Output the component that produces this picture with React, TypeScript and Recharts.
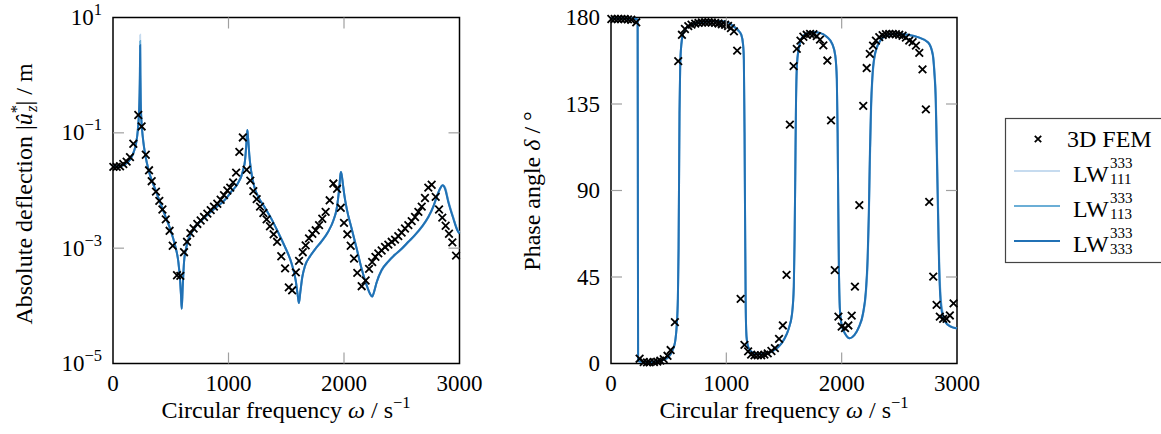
import React from 'react';
import { ComposedChart, Line, Scatter, XAxis, YAxis, ReferenceArea } from 'recharts';

// 3D FEM reference points
const femOmega = [
  3, 32, 61, 89, 118, 147, 176, 219, 248, 284,
  312, 335, 372, 401, 428, 457, 490, 517, 554, 583,
  615, 641, 670, 698, 730, 759, 788, 817, 846, 874,
  903, 932, 961, 990, 1015, 1040, 1066, 1094, 1124, 1157,
  1189, 1215, 1244, 1273, 1302, 1330, 1359, 1391, 1421, 1457,
  1490, 1522, 1551, 1583, 1611, 1643, 1668, 1697, 1726, 1755,
  1784, 1812, 1841, 1876, 1908, 1940, 1972, 2000, 2029, 2058,
  2087, 2115, 2153, 2187, 2217, 2244, 2272, 2297, 2326, 2355,
  2384, 2413, 2442, 2470, 2499, 2528, 2557, 2586, 2615, 2644,
  2673, 2701, 2730, 2759, 2794, 2823, 2851, 2880, 2909, 2938,
  2970,
];
const femAbs = [
  2.57e-2, 2.57e-2, 2.63e-2, 2.88e-2, 3.16e-2, 3.8e-2, 6.46e-2, 2.04e-1, 1.29e-1, 4.17e-2,
  2.24e-2, 1.45e-2, 9.55e-3, 6.61e-3, 4.68e-3, 3.16e-3, 2.0e-3, 1.1e-3, 3.39e-4, 3.31e-4,
  8.51e-4, 1.29e-3, 1.82e-3, 2.19e-3, 2.63e-3, 3.02e-3, 3.47e-3, 3.98e-3, 4.57e-3, 5.25e-3,
  5.89e-3, 6.92e-3, 8.32e-3, 1.0e-2, 1.12e-2, 1.38e-2, 2.04e-2, 4.68e-2, 8.32e-2, 2.29e-2,
  1.48e-2, 9.77e-3, 7.08e-3, 5.25e-3, 4.07e-3, 3.16e-3, 2.4e-3, 1.74e-3, 1.29e-3, 7.24e-4,
  4.47e-4, 2.09e-4, 1.86e-4, 3.8e-4, 6.03e-4, 8.51e-4, 1.12e-3, 1.48e-3, 1.78e-3, 2.04e-3,
  2.51e-3, 3.24e-3, 4.27e-3, 6.76e-3, 1.32e-2, 1.07e-2, 5.01e-3, 2.75e-3, 1.74e-3, 1.1e-3,
  6.61e-4, 3.72e-4, 2.19e-4, 2.75e-4, 4.37e-4, 5.75e-4, 7.08e-4, 8.13e-4, 9.12e-4, 1.05e-3,
  1.15e-3, 1.29e-3, 1.41e-3, 1.62e-3, 1.86e-3, 2.19e-3, 2.51e-3, 2.95e-3, 3.47e-3, 4.27e-3,
  5.25e-3, 7.41e-3, 1.12e-2, 1.26e-2, 7.76e-3, 4.68e-3, 3.39e-3, 2.45e-3, 1.78e-3, 1.26e-3,
  7.41e-4,
];
const femPhase = [
  179.2, 179.2, 179.2, 179.2, 179.2, 179, 178.8, 177.5, 2.5, 0.8,
  0.6, 0.6, 0.8, 1.0, 1.5, 2.3, 4.0, 7.0, 21.5, 157.3,
  171, 174, 175.5, 176.3, 176.8, 177.2, 177.4, 177.5, 177.5, 177.4,
  177.2, 176.9, 176.5, 176.2, 175.6, 174.5, 172.8, 162.8, 33.6, 9.7,
  6.3, 4.6, 4.2, 4.2, 4.3, 4.6, 5.3, 6.5, 8.0, 12.8,
  19.8, 46.1, 124.3, 154.7, 163.7, 168, 170, 171, 171.5, 171.3,
  170.3, 168.5, 165.5, 157.6, 126.5, 48.6, 24.4, 19.2, 18.4, 19.8,
  24.9, 40, 82.4, 134, 153.7, 161.1, 165.4, 168, 169.8, 170.8,
  171.3, 171.5, 171.5, 171.3, 171, 170.5, 169.5, 168, 167.2, 165.4,
  161.6, 153, 132.2, 84.1, 45.2, 30.5, 24.4, 23.2, 23.2, 25,
  31.3,
];

// layerwise (LW) model curves, magnitude
const absOmega = [
  0, 50, 100, 150, 180, 200, 215, 225, 230, 233,
  235, 237, 240, 245, 252, 263, 275, 291, 320, 364,
  407, 450, 494, 537, 566, 580, 589, 595, 603, 615,
  632, 652, 681, 724, 782, 840, 898, 955, 999, 1027,
  1060, 1085, 1110, 1130, 1143, 1150, 1157, 1163, 1168, 1173,
  1180, 1195, 1224, 1258, 1316, 1374, 1431, 1489, 1547, 1582,
  1599, 1610, 1622, 1639, 1662, 1706, 1749, 1807, 1864, 1908,
  1937, 1950, 1960, 1968, 1974, 1980, 1990, 2003, 2023, 2066,
  2110, 2153, 2196, 2225, 2245, 2260, 2283, 2326, 2384, 2442,
  2499, 2557, 2615, 2673, 2730, 2773, 2808, 2831, 2854, 2875,
  2903, 2947, 2981, 3000,
];
const absLW333 = [
  2.57e-2, 2.63e-2, 2.82e-2, 3.47e-2, 4.68e-2, 6.61e-2, 1.12e-1, 2.24e-1, 4.47e-1, 1.0,
  3.31, 1.0, 3.55e-1, 1.78e-1, 1.12e-1, 6.92e-2, 4.68e-2, 3.16e-2, 1.86e-2, 1.07e-2,
  6.31e-3, 3.72e-3, 2.19e-3, 1.12e-3, 5.75e-4, 2.95e-4, 1.51e-4, 8.91e-5, 2.0e-4, 5.75e-4,
  9.77e-4, 1.41e-3, 1.86e-3, 2.51e-3, 3.24e-3, 4.17e-3, 5.25e-3, 6.46e-3, 8.13e-3, 9.77e-3,
  1.15e-2, 1.38e-2, 1.74e-2, 2.4e-2, 3.31e-2, 4.79e-2, 7.59e-2, 1.12e-1, 8.91e-2, 6.61e-2,
  4.17e-2, 2.24e-2, 1.15e-2, 7.76e-3, 5.01e-3, 3.16e-3, 1.86e-3, 1.05e-3, 5.37e-4, 2.75e-4,
  1.55e-4, 1.12e-4, 1.74e-4, 3.16e-4, 4.9e-4, 7.24e-4, 9.55e-4, 1.32e-3, 1.95e-3, 3.02e-3,
  4.9e-3, 7.59e-3, 1.17e-2, 1.82e-2, 2.09e-2, 1.86e-2, 1.32e-2, 8.32e-3, 4.9e-3, 2.19e-3,
  9.77e-4, 4.37e-4, 2.29e-4, 1.62e-4, 1.45e-4, 1.74e-4, 2.57e-4, 4.17e-4, 5.89e-4, 7.76e-4,
  9.77e-4, 1.29e-3, 1.7e-3, 2.34e-3, 3.47e-3, 5.25e-3, 8.32e-3, 1.07e-2, 1.23e-2, 1.07e-2,
  6.31e-3, 3.24e-3, 2.04e-3, 1.78e-3,
];
const absLW113 = [
  2.57e-2, 2.63e-2, 2.82e-2, 3.47e-2, 4.68e-2, 6.61e-2, 1.12e-1, 2.24e-1, 4.47e-1, 1.1,
  3.9, 1.1, 3.55e-1, 1.78e-1, 1.12e-1, 6.92e-2, 4.68e-2, 3.16e-2, 1.86e-2, 1.07e-2,
  6.31e-3, 3.72e-3, 2.19e-3, 1.12e-3, 5.75e-4, 2.95e-4, 1.51e-4, 8.91e-5, 2.0e-4, 5.75e-4,
  9.77e-4, 1.41e-3, 1.86e-3, 2.51e-3, 3.24e-3, 4.17e-3, 5.25e-3, 6.46e-3, 8.13e-3, 9.77e-3,
  1.15e-2, 1.38e-2, 1.74e-2, 2.4e-2, 3.31e-2, 4.79e-2, 7.59e-2, 1.12e-1, 8.91e-2, 6.61e-2,
  4.17e-2, 2.24e-2, 1.15e-2, 7.76e-3, 5.01e-3, 3.16e-3, 1.86e-3, 1.05e-3, 5.37e-4, 2.75e-4,
  1.55e-4, 1.12e-4, 1.74e-4, 3.16e-4, 4.9e-4, 7.24e-4, 9.55e-4, 1.32e-3, 1.95e-3, 3.02e-3,
  4.9e-3, 7.59e-3, 1.17e-2, 1.82e-2, 2.09e-2, 1.86e-2, 1.32e-2, 8.32e-3, 4.9e-3, 2.19e-3,
  9.77e-4, 4.37e-4, 2.29e-4, 1.62e-4, 1.45e-4, 1.74e-4, 2.57e-4, 4.17e-4, 5.89e-4, 7.76e-4,
  9.77e-4, 1.29e-3, 1.7e-3, 2.34e-3, 3.47e-3, 5.25e-3, 8.32e-3, 1.07e-2, 1.23e-2, 1.1e-2,
  6.46e-3, 3.31e-3, 2.09e-3, 1.82e-3,
];
const absLW111 = [
  2.57e-2, 2.63e-2, 2.82e-2, 3.47e-2, 4.68e-2, 6.61e-2, 1.12e-1, 2.24e-1, 4.47e-1, 1.2,
  5.0, 1.2, 3.55e-1, 1.78e-1, 1.12e-1, 6.92e-2, 4.68e-2, 3.16e-2, 1.86e-2, 1.07e-2,
  6.31e-3, 3.72e-3, 2.19e-3, 1.12e-3, 5.75e-4, 2.95e-4, 1.51e-4, 8.91e-5, 2.0e-4, 5.75e-4,
  9.77e-4, 1.41e-3, 1.86e-3, 2.51e-3, 3.24e-3, 4.17e-3, 5.25e-3, 6.46e-3, 8.13e-3, 9.77e-3,
  1.15e-2, 1.38e-2, 1.74e-2, 2.4e-2, 3.31e-2, 4.79e-2, 7.59e-2, 1.12e-1, 8.91e-2, 6.61e-2,
  4.17e-2, 2.24e-2, 1.15e-2, 7.76e-3, 5.01e-3, 3.16e-3, 1.86e-3, 1.05e-3, 5.37e-4, 2.75e-4,
  1.55e-4, 1.12e-4, 1.74e-4, 3.16e-4, 4.9e-4, 7.24e-4, 9.55e-4, 1.32e-3, 1.95e-3, 3.02e-3,
  4.9e-3, 7.59e-3, 1.17e-2, 1.82e-2, 2.09e-2, 1.86e-2, 1.32e-2, 8.32e-3, 4.9e-3, 2.19e-3,
  9.77e-4, 4.37e-4, 2.29e-4, 1.62e-4, 1.45e-4, 1.74e-4, 2.57e-4, 4.07e-4, 5.75e-4, 7.59e-4,
  9.55e-4, 1.26e-3, 1.66e-3, 2.29e-3, 3.39e-3, 5.13e-3, 8.13e-3, 1.05e-2, 1.23e-2, 1.15e-2,
  6.76e-3, 3.39e-3, 2.14e-3, 1.86e-3,
];

// LW model curves, phase
const phaseOmega = [
  0, 100, 200, 228, 231, 233, 235, 250, 300, 350,
  400, 450, 500, 530, 555, 570, 580, 586, 590, 594,
  600, 610, 625, 650, 700, 800, 900, 1000, 1060, 1100,
  1130, 1145, 1152, 1158, 1163, 1168, 1175, 1190, 1220, 1260,
  1300, 1350, 1400, 1450, 1500, 1540, 1570, 1585, 1592, 1598,
  1604, 1612, 1625, 1645, 1690, 1750, 1810, 1870, 1920, 1945,
  1958, 1965, 1970, 1976, 1985, 2000, 2030, 2070, 2110, 2150,
  2185, 2210, 2225, 2235, 2245, 2255, 2265, 2285, 2330, 2400,
  2490, 2575, 2660, 2750, 2790, 2805, 2815, 2823, 2830, 2838,
  2845, 2858, 2875, 2900, 2940, 3000,
];
const phaseLW333 = [
  179.5, 179.5, 179.3, 179, 178.5, 90, 1.5, 1.0, 0.8, 0.8,
  1.0, 1.8, 3.5, 6.5, 11, 20, 34, 60, 95, 130,
  155, 166, 171.5, 174.5, 176.5, 177.8, 178.2, 177.8, 175.5, 173.5,
  171, 166, 158, 120, 70, 30, 14, 8.5, 6, 5,
  4.8, 5.2, 6.5, 8.5, 12.5, 18, 26, 40, 65, 100,
  135, 155, 163, 168, 171.5, 172.4, 172, 170, 166, 160,
  148, 120, 85, 50, 28, 20, 15.5, 13.2, 14.8, 19,
  26, 38, 55, 77, 110, 135, 148, 160, 167.5, 171,
  171.6, 171, 169.8, 167, 160.5, 150, 138, 115, 94, 70,
  50, 32, 25, 21.5, 19.3, 18.2,
];
const phaseLW113 = [
  179.5, 179.5, 179.3, 179, 178.5, 90, 1.5, 1.0, 0.8, 0.8,
  1.0, 1.8, 3.5, 6.5, 11, 20, 34, 60, 95, 130,
  155, 166, 171.5, 174.5, 176.5, 177.8, 178.2, 177.8, 175.5, 173.5,
  171, 166, 158, 120, 70, 30, 14, 8.5, 6, 5,
  4.8, 5.2, 6.5, 8.5, 12.5, 18, 26, 40, 65, 100,
  135, 155, 163, 168, 171.5, 172.4, 172, 170, 166, 160,
  148, 120, 85, 50, 28, 20, 15.5, 13.2, 14.8, 19,
  26, 37, 53, 75, 107, 133, 147, 159.5, 167.5, 171,
  171.6, 171, 169.8, 167, 161, 151, 140, 119, 98, 74,
  53, 34, 26, 21.8, 19.4, 18.3,
];
const phaseLW111 = [
  179.5, 179.5, 179.3, 179, 178.5, 90, 1.5, 1.0, 0.8, 0.8,
  1.0, 1.8, 3.5, 6.5, 11, 20, 34, 60, 95, 130,
  155, 166, 171.5, 174.5, 176.5, 177.8, 178.2, 177.8, 175.5, 173.5,
  171, 166, 158, 120, 70, 30, 14, 8.5, 6, 5,
  4.8, 5.2, 6.5, 8.5, 12.5, 18, 26, 40, 65, 100,
  135, 155, 163, 168, 171.5, 172.4, 172, 170, 166, 160,
  148, 120, 85, 50, 28, 20, 15.5, 13.2, 14.8, 19,
  25, 36, 51, 72, 104, 130, 145, 159, 167.3, 171,
  171.6, 171, 169.8, 167.2, 161.5, 152, 142, 123, 102, 78,
  57, 36, 27, 22.2, 19.5, 18.4,
];

const omegaTicks = [0, 1000, 2000, 3000];
const absTicks = [1e-5, 1e-3, 1e-1, 10];
const phaseTicks = [0, 45, 90, 135, 180];

const legendItems = [
  { name: 'LW', sup: '333', sub: '111', color: '#c6dbef' },
  { name: 'LW', sup: '333', sub: '113', color: '#6baed6' },
  { name: 'LW', sup: '333', sub: '333', color: '#2171b5' },
];

const femRows = femOmega.map((omega, i) => ({ omega, abs: femAbs[i], phase: femPhase[i] }));
const absRows = absOmega.map((omega, i) => ({
  omega, lw111: absLW111[i], lw113: absLW113[i], lw333: absLW333[i],
}));
const phaseRows = phaseOmega.map((omega, i) => ({
  omega, lw111: phaseLW111[i], lw113: phaseLW113[i], lw333: phaseLW333[i],
}));

const FONT = '"Liberation Serif", "Times New Roman", serif';
const TOP = 17.5;
const BOTTOM = 363.5;
const TICK_LEN = 11;
const TICK_COLOR = '#a0a0a0';
const FS = 23; // tick labels
const TS = 24; // titles, legend
const SS = 16.5; // scripts

const Cross = ({ cx, cy, s = 3.8 }: any) => {
  if (cx == null || cy == null) return null;
  return (
    <path
      d={`M${cx - s},${cy - s}L${cx + s},${cy + s}M${cx - s},${cy + s}L${cx + s},${cy - s}`}
      stroke="#000"
      strokeWidth={1.8}
      fill="none"
    />
  );
};

const XTick = ({ x, payload, index }: any) => {
  const inner = index > 0 && index < omegaTicks.length - 1;
  return (
    <g>
      {inner && <line x1={x} x2={x} y1={BOTTOM} y2={BOTTOM - TICK_LEN} stroke={TICK_COLOR} strokeWidth={1.2} />}
      {inner && <line x1={x} x2={x} y1={TOP} y2={TOP + TICK_LEN} stroke={TICK_COLOR} strokeWidth={1.2} />}
      <text x={x} y={391} textAnchor="middle" fontSize={FS} fontFamily={FONT} fill="#000">
        {payload.value}
      </text>
    </g>
  );
};

const YTick = ({ y, payload, index, left, right, count, log }: any) => {
  const inner = index > 0 && index < count - 1;
  const exp = log ? Math.round(Math.log10(payload.value)) : 0;
  return (
    <g>
      {inner && <line x1={left} x2={left + TICK_LEN} y1={y} y2={y} stroke={TICK_COLOR} strokeWidth={1.2} />}
      {inner && <line x1={right - TICK_LEN} x2={right} y1={y} y2={y} stroke={TICK_COLOR} strokeWidth={1.2} />}
      <text x={left - 11} y={y + 7.5} textAnchor="end" fontSize={FS} fontFamily={FONT} fill="#000">
        {log ? '10' : payload.value}
        {log && (
          <tspan dy={-10} fontSize={SS}>
            {exp < 0 ? `\u2212${-exp}` : `${exp}`}
          </tspan>
        )}
      </text>
    </g>
  );
};

const xTitle = (cx: number) => () => (
  <text x={cx} y={418} textAnchor="middle" fontSize={TS} fontFamily={FONT} fill="#000">
    Circular frequency <tspan fontStyle="italic">ω</tspan> / s
    <tspan dy={-10} fontSize={SS}>−1</tspan>
  </text>
);

const absTitle = () => (
  <text transform="translate(32,194) rotate(-90)" textAnchor="middle" fontSize={TS} fontFamily={FONT} fill="#000">
    Absolute deflection |<tspan fontStyle="italic">û</tspan>
    <tspan dy={-10} fontSize={SS}>*</tspan>
    <tspan dx={-7} dy={15} fontSize={SS} fontStyle="italic">z</tspan>
    <tspan dy={-5}>| / m</tspan>
  </text>
);

const phaseTitle = () => (
  <text transform="translate(60,191) rotate(-90)" textAnchor="middle" fontSize={TS} fontFamily={FONT} fill="#000">
    Phase angle <tspan fontStyle="italic">δ</tspan> / °
  </text>
);

const lwLines = (rows: any[]) =>
  legendItems.map((it) => (
    <Line
      key={it.sub}
      data={rows}
      dataKey={`lw${it.sub}`}
      type="monotone"
      stroke={it.color}
      strokeWidth={2}
      dot={false}
      isAnimationActive={false}
    />
  ));

export default function App() {
  return (
    <div style={{ position: 'absolute', left: 0, top: 0, width: 1161, height: 434, background: '#fff', overflow: 'hidden', fontFamily: FONT }}>
      {/* left: magnitude */}
      <div style={{ position: 'absolute', left: 0, top: 0 }}>
        <ComposedChart width={500} height={434} margin={{ top: TOP, right: 40.5, bottom: 0, left: 0 }}>
          <XAxis
            type="number"
            dataKey="omega"
            domain={[0, 3000]}
            ticks={omegaTicks}
            interval={0}
            height={434 - BOTTOM}
            axisLine={false}
            tickLine={false}
            tick={(p: any) => <XTick {...p} />}
            label={xTitle(286)}
          />
          <YAxis
            type="number"
            scale="log"
            domain={[1e-5, 10]}
            allowDataOverflow
            ticks={absTicks}
            interval={0}
            width={113}
            axisLine={false}
            tickLine={false}
            tick={(p: any) => <YTick {...p} left={113} right={459.5} count={absTicks.length} log />}
            label={absTitle}
          />
          <ReferenceArea x1={0} x2={3000} y1={1e-5} y2={10} fill="none" fillOpacity={0} stroke="#000" strokeWidth={1.5} />
          {lwLines(absRows)}
          <Scatter data={femRows} dataKey="abs" shape={(p: any) => <Cross {...p} />} isAnimationActive={false} />
        </ComposedChart>
      </div>

      {/* right: phase */}
      <div style={{ position: 'absolute', left: 480, top: 0 }}>
        <ComposedChart width={510} height={434} margin={{ top: TOP, right: 33, bottom: 0, left: 0 }}>
          <XAxis
            type="number"
            dataKey="omega"
            domain={[0, 3000]}
            ticks={omegaTicks}
            interval={0}
            height={434 - BOTTOM}
            axisLine={false}
            tickLine={false}
            tick={(p: any) => <XTick {...p} />}
            label={xTitle(304)}
          />
          <YAxis
            type="number"
            domain={[0, 180]}
            ticks={phaseTicks}
            interval={0}
            width={131}
            axisLine={false}
            tickLine={false}
            tick={(p: any) => <YTick {...p} left={131} right={477} count={phaseTicks.length} />}
            label={phaseTitle}
          />
          <ReferenceArea x1={0} x2={3000} y1={0} y2={180} fill="none" fillOpacity={0} stroke="#000" strokeWidth={1.5} />
          {lwLines(phaseRows)}
          <Scatter data={femRows} dataKey="phase" shape={(p: any) => <Cross {...p} />} isAnimationActive={false} />
        </ComposedChart>
      </div>

      {/* legend */}
      <svg style={{ position: 'absolute', left: 1000, top: 100 }} width={161} height={180}>
        <rect x={5.5} y={18.5} width={200} height={144} fill="#fff" stroke="#444" strokeWidth={1.2} />
        <Cross cx={38} cy={39} s={3.2} />
        <text x={67} y={47} fontSize={TS} fontFamily={FONT} fill="#000">3D FEM</text>
        {legendItems.map((it, i) => {
          const ly = 71 + 35 * i;
          return (
            <g key={it.sub}>
              <line x1={14} x2={60} y1={ly} y2={ly} stroke={it.color} strokeWidth={2.2} />
              <text x={73} y={ly + 11} fontSize={TS} fontFamily={FONT} fill="#000">{it.name}</text>
              <text x={110} y={ly - 3} fontSize={15} fontFamily={FONT} fill="#000">{it.sup}</text>
              <text x={110} y={ly + 13} fontSize={15} fontFamily={FONT} fill="#000">{it.sub}</text>
            </g>
          );
        })}
      </svg>
    </div>
  );
}
